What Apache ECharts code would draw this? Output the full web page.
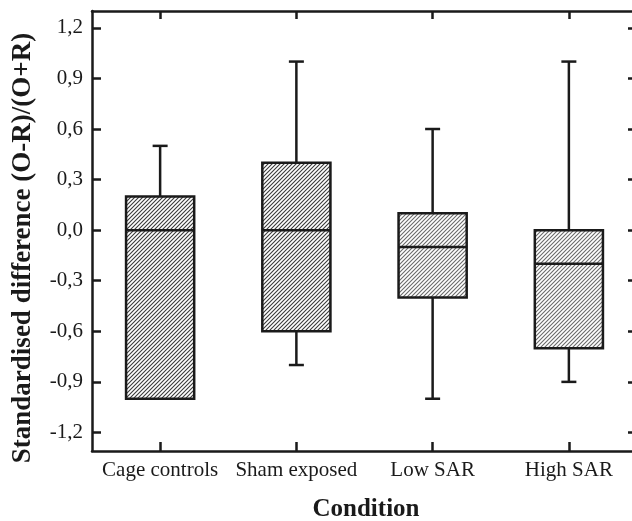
<!DOCTYPE html>
<html>
<head>
<meta charset="utf-8">
<script src="https://cdn.jsdelivr.net/npm/echarts@6/dist/echarts.min.js"></script>
<style>
  html, body { margin: 0; padding: 0; background: #fff; }
  #chart { width: 632px; height: 521px; }
</style>
</head>
<body>
<div id="chart"></div>
<script>
// Conditions along the x axis
const categories = ['Cage controls', 'Sham exposed', 'Low SAR', 'High SAR'];
// Box-and-whisker summary per condition
const whiskerLow  = [-1.0, -0.8, -1.0, -0.9];
const quartile1   = [-1.0, -0.6, -0.4, -0.7];
const median      = [ 0.0,  0.0, -0.1, -0.2];
const quartile3   = [ 0.2,  0.4,  0.1,  0.0];
const whiskerHigh = [ 0.5,  1.0,  0.6,  1.0];
// Y axis tick values
const yTicks = [-1.2, -0.9, -0.6, -0.3, 0.0, 0.3, 0.6, 0.9, 1.2];

// Hatch shade for each box
const hatchShades = ['#3a3a3a', '#3a3a3a', '#6a6a6a', '#6a6a6a'];

function makeHatch(color) {
  const c = document.createElement('canvas');
  const s = 4;
  c.width = s; c.height = s;
  const g = c.getContext('2d');
  g.strokeStyle = color;
  g.lineWidth = 1.1;
  g.beginPath();
  g.moveTo(-1, s + 1); g.lineTo(s + 1, -1);
  g.moveTo(-1, 1); g.lineTo(1, -1);
  g.moveTo(s - 1, s + 1); g.lineTo(s + 1, s - 1);
  g.stroke();
  return { image: c, repeat: 'repeat' };
}
const hatches = hatchShades.map(makeHatch);

const FONT = "'Liberation Serif', 'Times New Roman', serif";
const INK = '#1a1a1a';
const LW = 2.5;
const fmt = v => (Math.round(v * 10) / 10).toFixed(1).replace('.', ',');

const boxData = categories.map((c, i) => [i, whiskerLow[i], quartile1[i], median[i], quartile3[i], whiskerHigh[i]]);

const chart = echarts.init(document.getElementById('chart'), null, { renderer: 'canvas' });

const option = {
  animation: false,
  backgroundColor: '#fff',
  grid: { left: 92, top: 11, width: 545, height: 440, containLabel: false, outerBoundsMode: 'none' },
  xAxis: [
    {
      type: 'category', data: categories, position: 'bottom',
      axisLine: { onZero: false, lineStyle: { color: INK, width: LW } },
      axisTick: { show: true, inside: true, length: 9, alignWithLabel: true, lineStyle: { color: INK, width: LW } },
      axisLabel: { interval: 0, margin: 9, fontFamily: FONT, fontSize: 21, color: INK },
      splitLine: { show: false }
    },
    {
      type: 'category', data: categories, position: 'top',
      axisLine: { onZero: false, lineStyle: { color: INK, width: LW } },
      axisTick: { show: true, inside: true, length: 8, alignWithLabel: true, lineStyle: { color: INK, width: LW } },
      axisLabel: { show: false },
      splitLine: { show: false }
    }
  ],
  yAxis: [
    {
      type: 'value', position: 'left', min: -1.31, max: 1.3,
      axisLine: { show: true, onZero: false, lineStyle: { color: INK, width: LW } },
      axisTick: { show: true, inside: true, length: 9, customValues: yTicks, lineStyle: { color: INK, width: LW } },
      axisLabel: { customValues: yTicks, margin: 9, fontFamily: FONT, fontSize: 21, color: INK, formatter: fmt },
      splitLine: { show: false }
    },
    {
      type: 'value', position: 'right', min: -1.31, max: 1.3,
      axisLine: { show: true, onZero: false, lineStyle: { color: INK, width: LW } },
      axisTick: { show: true, inside: true, length: 9, customValues: yTicks, lineStyle: { color: INK, width: LW } },
      axisLabel: { show: false },
      splitLine: { show: false }
    }
  ],
  graphic: [
    {
      type: 'text', x: 366, y: 510,
      style: { text: 'Condition', font: "bold 25px " + FONT, fill: INK, align: 'center', verticalAlign: 'middle' }
    },
    {
      type: 'text', x: 23, y: 248, rotation: Math.PI / 2,
      style: { text: 'Standardised difference (O-R)/(O+R)', font: "bold 27px " + FONT, fill: INK, align: 'center', verticalAlign: 'middle' }
    }
  ],
  series: [
    {
      type: 'custom',
      data: boxData,
      encode: { x: 0, y: [1, 2, 3, 4, 5] },
      renderItem: function (params, api) {
        const i = api.value(0);
        const lo = api.coord([i, api.value(1)]);
        const q1 = api.coord([i, api.value(2)]);
        const md = api.coord([i, api.value(3)]);
        const q3 = api.coord([i, api.value(4)]);
        const hi = api.coord([i, api.value(5)]);
        const band = api.size([1, 0])[0];
        const bw = band * 0.5;
        const cw = 15;
        const x = md[0];
        const stroke = { stroke: INK, lineWidth: LW };
        return {
          type: 'group',
          children: [
            { type: 'line', shape: { x1: x, y1: q3[1], x2: x, y2: hi[1] }, style: stroke },
            { type: 'line', shape: { x1: x - cw / 2, y1: hi[1], x2: x + cw / 2, y2: hi[1] }, style: stroke },
            { type: 'line', shape: { x1: x, y1: q1[1], x2: x, y2: lo[1] }, style: stroke },
            { type: 'line', shape: { x1: x - cw / 2, y1: lo[1], x2: x + cw / 2, y2: lo[1] }, style: stroke, invisible: lo[1] === q1[1] },
            {
              type: 'rect',
              shape: { x: x - bw / 2, y: q3[1], width: bw, height: q1[1] - q3[1] },
              style: { fill: hatches[i], stroke: INK, lineWidth: LW }
            },
            { type: 'line', shape: { x1: x - bw / 2, y1: md[1], x2: x + bw / 2, y2: md[1] }, style: stroke }
          ]
        };
      }
    }
  ]
};

chart.setOption(option);
</script>
</body>
</html>
